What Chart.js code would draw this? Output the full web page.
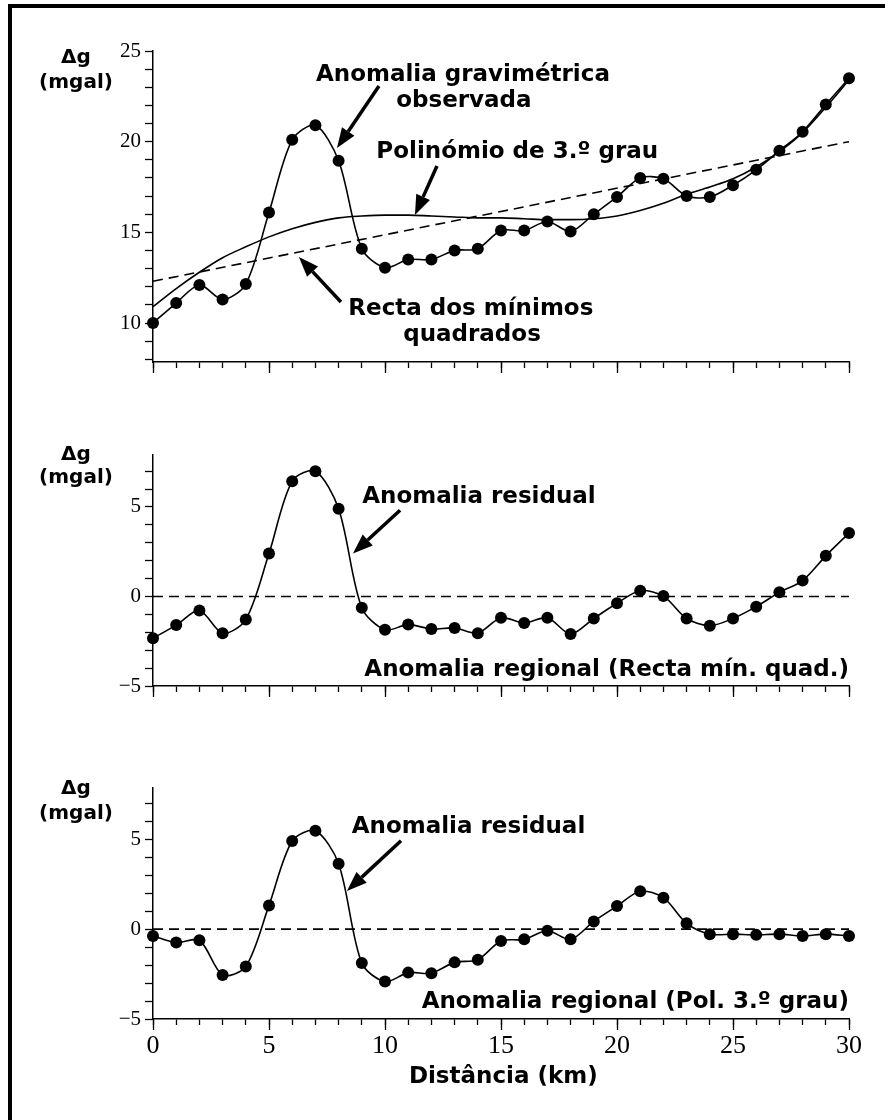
<!DOCTYPE html>
<html>
<head>
<meta charset="utf-8">
<script src="https://cdn.jsdelivr.net/npm/chart.js@4.4.0/dist/chart.umd.min.js"></script>
<style>
body { margin: 0; background: #fff; }
#quadro { position: relative; width: 885px; height: 1120px; overflow: hidden; background: #fff; }
#moldura { position: absolute; left: 8px; top: 4px; width: 940px; height: 1200px; border-top: 4px solid #000; border-left: 4px solid #000; }
canvas { position: absolute; left: 0; }
</style>
</head>
<body>
<div id="quadro">
  <div id="moldura"></div>
  <canvas id="painel1" width="885" height="400" style="top:0px"></canvas>
  <canvas id="painel2" width="885" height="320" style="top:400px"></canvas>
  <canvas id="painel3" width="885" height="400" style="top:720px"></canvas>
</div>
<script>
// dados (distancia em km, anomalias em mgal)
const distancias = [0, 1, 2, 3, 4, 5, 6, 7, 8, 9, 10, 11, 12, 13, 14, 15, 16, 17, 18, 19, 20, 21, 22, 23, 24, 25, 26, 27, 28, 29, 30];
const anomaliaObservada = [10.0, 11.1, 12.1, 11.3, 12.15, 16.1, 20.1, 20.9, 18.95, 14.1, 13.05, 13.5, 13.5, 14.0, 14.1, 15.1, 15.1, 15.6, 15.05, 16.0, 16.95, 18.0, 17.95, 17.0, 16.95, 17.6, 18.45, 19.5, 20.55, 22.05, 23.5];
const polinomio3 = [10.9, 11.9, 12.8, 13.6, 14.2, 14.75, 15.2, 15.55, 15.8, 15.9, 15.95, 15.95, 15.9, 15.85, 15.8, 15.8, 15.75, 15.7, 15.7, 15.75, 15.9, 16.2, 16.6, 17.1, 17.5, 17.95, 18.6, 19.45, 20.5, 21.9, 23.4];
const rectaDist = [0, 30];
const rectaValores = [12.3, 20.0];
const residualRecta = [-2.33, -1.6, -0.78, -2.05, -1.29, 2.4, 6.44, 6.99, 4.9, -0.63, -1.86, -1.57, -1.82, -1.76, -2.05, -1.19, -1.48, -1.19, -2.1, -1.23, -0.38, 0.32, 0.02, -1.23, -1.63, -1.23, -0.57, 0.23, 0.89, 2.27, 3.54];
const residualPolinomio = [-0.38, -0.75, -0.62, -2.55, -2.08, 1.32, 4.9, 5.47, 3.64, -1.89, -2.92, -2.42, -2.45, -1.85, -1.7, -0.66, -0.57, -0.09, -0.57, 0.43, 1.28, 2.11, 1.75, 0.32, -0.28, -0.28, -0.32, -0.28, -0.38, -0.28, -0.38];
const zeroDist = [0, 30];
const zeroValores = [0, 0];

const rotulosX = [0, 5, 10, 15, 20, 25, 30];
const rotulosYTopo = [10, 15, 20, 25];
const rotulosYResidual = [-5, 0, 5];

const fonteTexto = 'bold 23px "DejaVu Sans"';
const fonteEixo = 'bold 20px "DejaVu Sans"';

function pontos(xs, ys) {
    return xs.map((x, i) => ({x: x, y: ys[i]}));
}

function seta(ctx, x0, y0, x1, y1) {
    const ang = Math.atan2(y1 - y0, x1 - x0);
    const comp = 20, larg = 7.5;
    const bx = x1 - comp * Math.cos(ang), by = y1 - comp * Math.sin(ang);
    ctx.lineWidth = 3.5;
    ctx.beginPath();
    ctx.moveTo(x0, y0);
    ctx.lineTo(bx, by);
    ctx.stroke();
    ctx.beginPath();
    ctx.moveTo(x1, y1);
    ctx.lineTo(bx + larg * Math.sin(ang), by - larg * Math.cos(ang));
    ctx.lineTo(bx - larg * Math.sin(ang), by + larg * Math.cos(ang));
    ctx.closePath();
    ctx.fill();
}

const anotacoes = {
    id: 'anotacoes',
    afterDraw(chart, args, opts) {
        const ctx = chart.ctx;
        const sx = chart.scales.x, sy = chart.scales.y;
        const area = chart.chartArea;
        ctx.save();
        ctx.fillStyle = '#000';
        ctx.strokeStyle = '#000';

        // traços maiores nos múltiplos de 5
        ctx.lineWidth = 1.3;
        rotulosX.forEach(v => {
            const px = Math.round(sx.getPixelForValue(v)) + 0.5;
            ctx.beginPath();
            ctx.moveTo(px, area.bottom);
            ctx.lineTo(px, area.bottom + 11);
            ctx.stroke();
        });

        // rótulo do eixo y
        ctx.textAlign = 'center';
        ctx.textBaseline = 'alphabetic';
        ctx.font = fonteEixo;
        ctx.fillText('\u0394g', 76, sy.getPixelForValue(opts.yDelta));
        ctx.fillText('(mgal)', 76, sy.getPixelForValue(opts.yMgal));

        (opts.textos || []).forEach(t => {
            ctx.font = fonteTexto;
            ctx.textAlign = t.align || 'center';
            ctx.fillText(t.texto, sx.getPixelForValue(t.x), sy.getPixelForValue(t.y));
        });
        (opts.setas || []).forEach(s => {
            seta(ctx, sx.getPixelForValue(s.de[0]), sy.getPixelForValue(s.de[1]),
                 sx.getPixelForValue(s.para[0]), sy.getPixelForValue(s.para[1]));
        });
        if (opts.tituloX) {
            ctx.font = fonteTexto;
            ctx.textAlign = 'center';
            ctx.fillText(opts.tituloX, sx.getPixelForValue(15.1), area.bottom + 64);
        }
        ctx.restore();
    }
};

function menos(v) {
    return String(v).replace('-', '\u2212');
}

function criaPainel(id, datasets, y, layoutTopo, alturaX, mostraRotulosX, anot) {
    return new Chart(document.getElementById(id), {
        type: 'line',
        data: { datasets: datasets },
        options: {
            responsive: false,
            animation: false,
            devicePixelRatio: 1,
            layout: { padding: { top: layoutTopo, right: 36, left: 0, bottom: 0 } },
            plugins: {
                legend: { display: false },
                tooltip: { enabled: false },
                anotacoes: anot
            },
            scales: {
                x: {
                    type: 'linear',
                    min: 0,
                    max: 30,
                    afterFit: s => { s.height = alturaX; },
                    border: { display: true, color: '#000', width: 1.5 },
                    grid: { drawOnChartArea: false, drawTicks: true, tickLength: 6, tickColor: '#000', tickWidth: 1.3 },
                    ticks: {
                        stepSize: 1,
                        autoSkip: false,
                        maxRotation: 0,
                        padding: 6,
                        color: '#000',
                        font: { family: '"Liberation Serif"', size: 26 },
                        callback: v => (mostraRotulosX && rotulosX.includes(v)) ? String(v) : ''
                    }
                },
                y: {
                    min: y.min,
                    max: y.max,
                    afterFit: s => { s.width = 153; },
                    border: { display: true, color: '#000', width: 1.5 },
                    grid: { drawOnChartArea: false, drawTicks: true, tickLength: 8, tickColor: '#000', tickWidth: 1.3 },
                    ticks: {
                        stepSize: 1,
                        autoSkip: false,
                        includeBounds: false,
                        padding: 4,
                        color: '#000',
                        font: { family: '"Liberation Serif"', size: 21 },
                        callback: v => y.rotulos.includes(v) ? menos(v) : ''
                    }
                }
            }
        },
        plugins: [anotacoes]
    });
}

function serieComPontos(valores) {
    return {
        data: pontos(distancias, valores),
        borderColor: '#000',
        backgroundColor: '#000',
        borderWidth: 1.6,
        pointRadius: 6,
        pointBorderWidth: 0,
        tension: 0.3,
        clip: false
    };
}

function tracejada(xs, ys) {
    return {
        data: pontos(xs, ys),
        borderColor: '#000',
        borderWidth: 1.6,
        borderDash: [10, 6],
        pointRadius: 0,
        clip: false
    };
}

// painel superior: anomalia observada, polinómio e recta
criaPainel('painel1', [
    serieComPontos(anomaliaObservada),
    {
        data: pontos(distancias, polinomio3),
        borderColor: '#000',
        borderWidth: 1.6,
        pointRadius: 0,
        cubicInterpolationMode: 'monotone',
        clip: false
    },
    tracejada(rectaDist, rectaValores)
], { min: 7.85, max: 25, rotulos: rotulosYTopo }, 51, 38, false, {
    yDelta: 24.35, yMgal: 22.95,
    textos: [
        { texto: 'Anomalia gravimétrica', x: 13.36, y: 23.35 },
        { texto: 'observada', x: 13.4, y: 21.9 },
        { texto: 'Polinómio de 3.º grau', x: 15.7, y: 19.1 },
        { texto: 'Recta dos mínimos', x: 13.7, y: 10.44 },
        { texto: 'quadrados', x: 13.75, y: 9.0 }
    ],
    setas: [
        { de: [9.74, 23.07], para: [7.93, 19.65] },
        { de: [12.24, 18.66], para: [11.29, 15.95] },
        { de: [8.1, 11.16], para: [6.29, 13.64] }
    ]
});

// painel do meio: residual em relação à recta
criaPainel('painel2', [
    serieComPontos(residualRecta),
    tracejada(zeroDist, zeroValores)
], { min: -5, max: 7.9, rotulos: rotulosYResidual }, 55, 34, false, {
    yDelta: 7.62, yMgal: 6.33,
    textos: [
        { texto: 'Anomalia residual', x: 14.05, y: 5.2 },
        { texto: 'Anomalia regional (Recta mín. quad.)', x: 30, y: -4.45, align: 'right' }
    ],
    setas: [
        { de: [10.65, 4.81], para: [8.62, 2.4] }
    ]
});

// painel inferior: residual em relação ao polinómio
criaPainel('painel3', [
    serieComPontos(residualPolinomio),
    tracejada(zeroDist, zeroValores)
], { min: -5, max: 7.85, rotulos: rotulosYResidual }, 68, 101, true, {
    yDelta: 7.54, yMgal: 6.15,
    textos: [
        { texto: 'Anomalia residual', x: 13.6, y: 5.36 },
        { texto: 'Anomalia regional (Pol. 3.º grau)', x: 30, y: -4.41, align: 'right' }
    ],
    setas: [
        { de: [10.69, 4.92], para: [8.36, 2.12] }
    ],
    tituloX: 'Distância (km)'
});
</script>
</body>
</html>
